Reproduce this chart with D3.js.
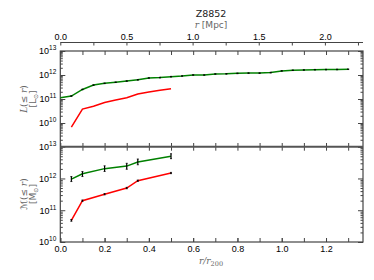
<!DOCTYPE html>
<html>
<head>
<meta charset="utf-8">
<title>Z8852</title>
<style>
	body { margin: 0; background: #fff; }
	svg { display: block; font-family: 'DejaVu Sans', sans-serif; }
	.tick text { font-size: 9px; fill: #000; }
	.axis path, .axis line { stroke: #444; }
	.lbl { fill: #666; font-size: 9px; }
</style>
<script src="https://cdn.jsdelivr.net/npm/d3@7"></script>
</head>
<body>
<div id="chart"></div>
<script>
// radii in units of r200
var lumRadius = [0, 0.05, 0.1, 0.15, 0.2, 0.25, 0.3, 0.35, 0.4, 0.45, 0.5, 0.55, 0.6, 0.65, 0.7,
	0.75, 0.8, 0.85, 0.9, 0.95, 1.0, 1.05, 1.1, 1.15, 1.2, 1.25, 1.3];
var lumGreen = [1.12e11, 1.33e11, 2.5e11, 3.8e11, 4.5e11, 5.0e11, 5.6e11, 6.3e11, 7.5e11, 7.8e11,
	8.5e11, 9.1e11, 1.0e12, 1.0e12, 1.1e12, 1.12e12, 1.17e12, 1.2e12, 1.2e12, 1.26e12,
	1.48e12, 1.58e12, 1.62e12, 1.66e12, 1.68e12, 1.70e12, 1.74e12];
var redRadius = [0.05, 0.1, 0.15, 0.2, 0.25, 0.3, 0.35, 0.4, 0.45, 0.5];
var lumRed = [6.8e9, 3.8e10, 5.0e10, 7.2e10, 9.1e10, 1.12e11, 1.62e11, 1.95e11, 2.3e11, 2.7e11];

var massRadius = [0.05, 0.1, 0.2, 0.3, 0.35, 0.5];
var massGreen = [9.5e11, 1.41e12, 2.04e12, 2.45e12, 3.3e12, 5.0e12];
var massGreenLo = [8.0e11, 1.15e12, 1.66e12, 1.95e12, 2.7e12, 4.2e12];
var massGreenHi = [1.15e12, 1.66e12, 2.5e12, 3.0e12, 4.1e12, 6.0e12];
var massRed = [4.8e10, 2.0e11, 3.2e11, 5.0e11, 8.5e11, 1.48e12];
var massRedLo = [4.5e10, 1.9e11, 3.05e11, 4.75e11, 8.1e11, 1.42e12];
var massRedHi = [5.1e10, 2.1e11, 3.35e11, 5.25e11, 8.9e11, 1.55e12];

var ratioTicks = [0, 0.2, 0.4, 0.6, 0.8, 1.0, 1.2];
var mpcTicks = [0, 0.5, 1.0, 1.5, 2.0];
var lumTicks = [1e10, 1e11, 1e12, 1e13];
var massTicks = [1e10, 1e11, 1e12, 1e13];

var width = 374, height = 280;
var left = 60.3, right = 363;
var top1 = 51, bot1 = 147, top2 = 146.7, bot2 = 242, mpcY = 42.5;

var svg = d3.select('#chart').append('svg')
	.attr('width', width).attr('height', height);

var xScale = d3.scaleLinear().domain([0, 1.367]).range([left, right]);
var mpcScale = d3.scaleLinear().domain([0, 2.288]).range([left, right]);
var yLum = d3.scaleLog().domain([1e9, 1e13]).range([bot1, top1]);
var yMass = d3.scaleLog().domain([1e10, 1e13]).range([bot2, top2]);

function minorLog(scale) {
	var out = [];
	var d = scale.domain();
	for (var e = Math.log10(d[0]); e < Math.log10(d[1]); e++) {
		for (var m = 2; m < 10; m++) out.push(m * Math.pow(10, e));
	}
	return out;
}

function supLabels(g) {
	g.selectAll('.tick text').each(function(d) {
		var t = d3.select(this).text(null);
		t.append('tspan').text('10');
		t.append('tspan').attr('dy', -4).style('font-size', '6.5px').text(Math.round(Math.log10(d)));
	});
}

function clean(g) { g.select('.domain').remove(); }

// y axes for both panels
[[yLum, lumTicks], [yMass, massTicks]].forEach(function(p, i) {
	var sc = p[0];
	svg.append('g').attr('class', 'axis').attr('transform', 'translate(' + left + ',0)')
		.call(d3.axisLeft(sc).tickValues(p[1]).tickSize(-5).tickPadding(4))
		.call(clean).call(supLabels);
	svg.append('g').attr('class', 'axis').attr('transform', 'translate(' + left + ',0)')
		.call(d3.axisLeft(sc).tickValues(minorLog(sc)).tickSize(-2.5).tickFormat(''))
		.call(clean);
	svg.append('g').attr('class', 'axis').attr('transform', 'translate(' + right + ',0)')
		.call(d3.axisRight(sc).tickValues(sc.ticks().filter(function(v) { return Math.log10(v) % 1 === 0; })).tickSize(-5).tickFormat(''))
		.call(clean);
	svg.append('g').attr('class', 'axis').attr('transform', 'translate(' + right + ',0)')
		.call(d3.axisRight(sc).tickValues(minorLog(sc)).tickSize(-2.5).tickFormat(''))
		.call(clean);
});

var xMinor = d3.range(0, 1.35, 0.1);
// bottom x axis with labels
svg.append('g').attr('class', 'axis').attr('transform', 'translate(0,' + bot2 + ')')
	.call(d3.axisBottom(xScale).tickValues(ratioTicks).tickSize(-4).tickPadding(4).tickFormat(d3.format('.1f')))
	.call(clean);
// inward x ticks on other horizontal spines
[[bot2, -4, 'b'], [top2, 4, 't'], [bot1, -4, 'b'], [top1, 4, 't']].forEach(function(s) {
	var ax = s[2] === 'b' ? d3.axisBottom(xScale) : d3.axisTop(xScale);
	svg.append('g').attr('class', 'axis').attr('transform', 'translate(0,' + s[0] + ')')
		.call(ax.tickValues(xMinor).tickSize(-4).tickFormat(''))
		.call(clean);
});

// top Mpc axis
var mpcAxis = svg.append('g').attr('class', 'axis').attr('transform', 'translate(0,' + mpcY + ')')
	.call(d3.axisTop(mpcScale).tickValues(d3.range(0, 2.3, 0.25)).tickSize(-3).tickPadding(3)
		.tickFormat(function(d) { return mpcTicks.indexOf(d) >= 0 ? d3.format('.1f')(d) : ''; }));
mpcAxis.select('.domain').attr('d', 'M' + left + ',0H' + right).attr('stroke-width', 1.2);

// panel frames
svg.append('rect').attr('x', left).attr('y', top1).attr('width', right - left).attr('height', bot2 - top1)
	.attr('fill', 'none').attr('stroke', '#444').attr('stroke-width', 1.2);
svg.append('line').attr('x1', left).attr('x2', right).attr('y1', top2).attr('y2', top2)
	.attr('stroke', '#555').attr('stroke-width', 2);

// lines
function drawLine(xs, ys, yScale, color) {
	var pts = xs.map(function(x, i) { return [x, ys[i]]; });
	svg.append('path').datum(pts)
		.attr('fill', 'none').attr('stroke', color).attr('stroke-width', 1.5)
		.attr('d', d3.line().x(function(d) { return xScale(d[0]); }).y(function(d) { return yScale(d[1]); }));
}
function drawErr(xs, lo, hi, yScale) {
	xs.forEach(function(x, i) {
		var cx = xScale(x);
		svg.append('line').attr('x1', cx).attr('x2', cx)
			.attr('y1', yScale(lo[i])).attr('y2', yScale(hi[i]))
			.attr('stroke', '#000').attr('stroke-width', 1.2);
		[lo[i], hi[i]].forEach(function(v) {
			svg.append('line').attr('x1', cx - 1).attr('x2', cx + 1)
				.attr('y1', yScale(v)).attr('y2', yScale(v))
				.attr('stroke', '#000').attr('stroke-width', 0.8);
		});
	});
}

drawLine(lumRadius, lumGreen, yLum, '#008000');
drawLine(redRadius, lumRed, yLum, '#ff0000');
drawErr(lumRadius.slice(1), lumGreen.slice(1).map(function(v) { return v * 0.97; }),
	lumGreen.slice(1).map(function(v) { return v * 1.03; }), yLum);

drawLine(massRadius, massGreen, yMass, '#008000');
drawLine(massRadius, massRed, yMass, '#ff0000');
drawErr(massRadius, massGreenLo, massGreenHi, yMass);
drawErr(massRadius, massRedLo, massRedHi, yMass);

// text
svg.append('text').attr('x', 211).attr('y', 17).attr('text-anchor', 'middle')
	.style('font-size', '9.5px').attr('fill', '#222').text('Z8852');
var mpcLbl = svg.append('text').attr('class', 'lbl').attr('x', 211).attr('y', 28).attr('text-anchor', 'middle');
mpcLbl.append('tspan').style('font-family', 'DejaVu Serif').style('font-style', 'italic').text('r');
mpcLbl.append('tspan').text(' [Mpc]');

var xLbl = svg.append('text').attr('class', 'lbl').attr('x', 211).attr('y', 264).attr('text-anchor', 'middle')
	.style('font-family', 'DejaVu Serif').style('font-style', 'italic');
xLbl.append('tspan').text('r/r');
xLbl.append('tspan').attr('dy', 2).style('font-size', '6.5px').style('font-style', 'normal').text('200');

function yLabel(cy, sym, symFont, unit) {
	var g = svg.append('g').attr('transform', 'translate(0,' + cy + ') rotate(-90)');
	var t1 = g.append('text').attr('class', 'lbl').attr('x', 0).attr('y', 27).attr('text-anchor', 'middle');
	t1.append('tspan').style('font-family', symFont).style('font-style', symFont === 'DejaVu Serif' ? 'italic' : 'normal').text(sym);
	t1.append('tspan').text('(≤ ');
	t1.append('tspan').style('font-family', 'DejaVu Serif').style('font-style', 'italic').text('r');
	t1.append('tspan').text(')');
	var t2 = g.append('text').attr('class', 'lbl').attr('x', 0).attr('y', 36).attr('text-anchor', 'middle');
	t2.append('tspan').text('[' + unit);
	t2.append('tspan').attr('dy', 2).style('font-size', '6px').text('⊙');
	t2.append('tspan').attr('dy', -2).text(']');
}
yLabel(99, 'L', 'DejaVu Serif', 'L');
yLabel(194, 'ℳ', 'DejaVu Sans', 'M');
</script>
</body>
</html>
